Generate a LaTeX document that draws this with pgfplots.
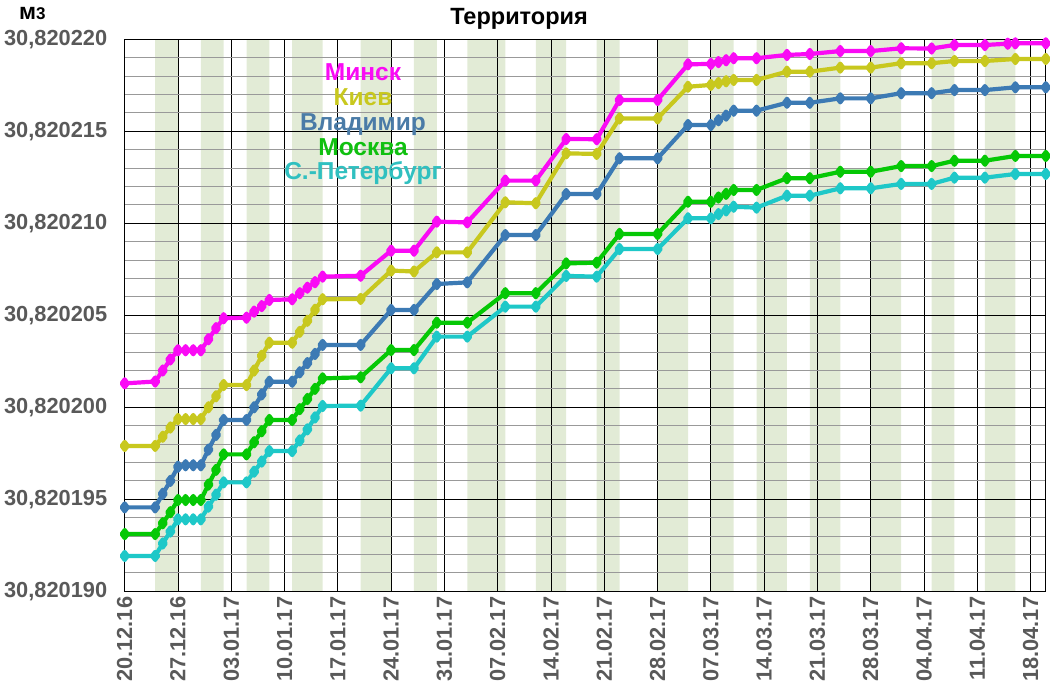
\documentclass[border=0pt]{standalone}
\usepackage{fontspec}
\setmainfont{Liberation Sans}
\usepackage{pgfplots}
\pgfplotsset{compat=1.18}
\definecolor{cMinsk}{RGB}{250,10,245}
\definecolor{cKiev}{RGB}{200,200,30}
\definecolor{cVlad}{RGB}{60,122,180}
\definecolor{cMosk}{RGB}{5,200,5}
\definecolor{cSpb}{RGB}{30,200,200}
\definecolor{tVlad}{RGB}{74,123,167}
\definecolor{tMosk}{RGB}{16,192,16}
\definecolor{tSpb}{RGB}{48,192,192}
\definecolor{bandc}{RGB}{226,235,214}
\definecolor{lblgray}{RGB}{89,89,89}
\begin{document}
\begin{tikzpicture}[x=1pt,y=1pt]
\begin{axis}[
  at={(124.7pt,108.7pt)}, anchor=south west,
  scale only axis, width=921.1pt, height=552pt,
  xmin=0, xmax=121, ymin=0, ymax=30,
  set layers,
  clip=false,
  xtick={0,7,...,119},
  xticklabels={20.12.16,27.12.16,03.01.17,10.01.17,17.01.17,24.01.17,31.01.17,07.02.17,14.02.17,21.02.17,28.02.17,07.03.17,14.03.17,21.03.17,28.03.17,04.04.17,11.04.17,18.04.17},
  ytick={0,5,...,30},
  yticklabels={{30,820190},{30,820195},{30,820200},{30,820205},{30,820210},{30,820215},{30,820220}},
  minor ytick={1,2,3,4,6,7,8,9,11,12,13,14,16,17,18,19,21,22,23,24,26,27,28,29},
  xmajorgrids, ymajorgrids, yminorgrids,
  major grid style={black, line width=0.8pt},
  minor grid style={black!40, line width=0.8pt},
  major tick length=0pt, minor tick length=0pt,
  axis line style={black, line width=0.9pt},
  tick label style={font=\fontsize{21.8}{24}\selectfont\bfseries, text=lblgray},
  x tick label style={rotate=90, anchor=east},
  xticklabel shift=2pt,
  yticklabel shift=14pt,
  every axis plot/.append style={line join=round},
]
\addplot[const plot, fill=bandc, draw=none, on layer=axis background] coordinates {
(0,0)(4,30)(7,0)(10,30)(13,0)(16,30)(19,0)(22,30)(26,0)(31,30)(35,0)(38,30)(41,0)(45,30)(50,0)(54,30)(58,0)(62,30)(65,0)(70,30)(74,0)(77,30)(80,0)(83,30)(87,0)(90,30)(94,0)(98,30)(102,0)(106,30)(109,0)(113,30)(117,0)(121,0)} \closedcycle;

% С.-Петербург
\addplot[color=cSpb, line width=4.2pt, mark=diamond*, mark size=4pt] coordinates {
(0,1.92)(4,1.92)(5,2.6)(6,3.25)(7,3.91)(8,3.91)(9,3.91)(10,3.91)(11,4.6)(12,5.25)(13,5.92)(16,5.92)(17,6.5)(18,7.05)(19,7.62)(22,7.62)(23,8.2)(24,8.8)(25,9.45)(26,10.07)(31,10.09)(35,12.12)(38,12.12)(41,13.84)(45,13.84)(50,15.47)(54,15.47)(58,17.14)(62,17.1)(65,18.6)(70,18.6)(74,20.27)(77,20.27)(78,20.5)(79,20.7)(80,20.9)(83,20.85)(87,21.5)(90,21.5)(94,21.9)(98,21.9)(102,22.14)(106,22.14)(109,22.48)(113,22.48)(117,22.68)(121,22.68)};

% Москва
\addplot[color=cMosk, line width=4.2pt, mark=diamond*, mark size=4pt] coordinates {
(0,3.11)(4,3.11)(5,3.7)(6,4.3)(7,4.96)(8,4.96)(9,4.96)(10,4.96)(11,5.8)(12,6.6)(13,7.44)(16,7.44)(17,8.1)(18,8.7)(19,9.31)(22,9.31)(23,9.9)(24,10.45)(25,11.0)(26,11.57)(31,11.63)(35,13.11)(38,13.11)(41,14.6)(45,14.6)(50,16.2)(54,16.2)(58,17.82)(62,17.86)(65,19.42)(70,19.42)(74,21.17)(77,21.17)(78,21.4)(79,21.6)(80,21.81)(83,21.81)(87,22.45)(90,22.45)(94,22.8)(98,22.8)(102,23.11)(106,23.11)(109,23.4)(113,23.4)(117,23.66)(121,23.66)};

% Владимир
\addplot[color=cVlad, line width=4.2pt, mark=diamond*, mark size=4pt] coordinates {
(0,4.56)(4,4.56)(5,5.3)(6,6.0)(7,6.77)(8,6.85)(9,6.85)(10,6.85)(11,7.7)(12,8.5)(13,9.31)(16,9.31)(17,10.0)(18,10.7)(19,11.39)(22,11.39)(23,11.9)(24,12.4)(25,12.9)(26,13.39)(31,13.39)(35,15.29)(38,15.29)(41,16.70)(45,16.79)(50,19.36)(54,19.36)(58,21.59)(62,21.59)(65,23.53)(70,23.53)(74,25.34)(77,25.34)(78,25.6)(79,25.85)(80,26.12)(83,26.12)(87,26.55)(90,26.55)(94,26.79)(98,26.79)(102,27.07)(106,27.07)(109,27.24)(113,27.24)(117,27.39)(121,27.39)};

% Киев
\addplot[color=cKiev, line width=4.2pt, mark=diamond*, mark size=4pt] coordinates {
(0,7.9)(4,7.9)(5,8.4)(6,8.9)(7,9.36)(8,9.36)(9,9.36)(10,9.36)(11,10.0)(12,10.6)(13,11.21)(16,11.21)(17,12.0)(18,12.8)(19,13.51)(22,13.51)(23,14.1)(24,14.7)(25,15.3)(26,15.87)(31,15.89)(35,17.43)(38,17.38)(41,18.42)(45,18.42)(50,21.14)(54,21.09)(58,23.8)(62,23.77)(65,25.7)(70,25.7)(74,27.42)(77,27.52)(78,27.62)(79,27.72)(80,27.79)(83,27.79)(87,28.24)(90,28.24)(94,28.46)(98,28.46)(102,28.7)(106,28.7)(109,28.82)(113,28.82)(117,28.93)(121,28.93)};

% Минск
\addplot[color=cMinsk, line width=4.2pt, mark=diamond*, mark size=4pt] coordinates {
(0,11.3)(4,11.4)(5,12.0)(6,12.6)(7,13.1)(8,13.1)(9,13.1)(10,13.1)(11,13.7)(12,14.3)(13,14.84)(16,14.87)(17,15.2)(18,15.5)(19,15.83)(22,15.87)(23,16.2)(24,16.5)(25,16.8)(26,17.1)(31,17.15)(35,18.51)(38,18.51)(41,20.09)(45,20.05)(50,22.32)(54,22.32)(58,24.58)(62,24.57)(65,26.7)(70,26.7)(74,28.64)(77,28.66)(78,28.76)(79,28.86)(80,28.97)(83,28.97)(87,29.15)(90,29.2)(94,29.36)(98,29.36)(102,29.51)(106,29.5)(109,29.69)(113,29.69)(116,29.76)(117,29.78)(121,29.78)};
\end{axis}
\node[anchor=base, font=\fontsize{23.5}{26}\selectfont\bfseries] at (519,675) {Территория};
\node[anchor=base west, inner sep=0pt, font=\bfseries] at (19,680.7) {{\fontsize{23}{24}\selectfont м}{\fontsize{17}{20}\selectfont 3}};
\begin{scope}[every node/.style={anchor=base, inner sep=0pt, font=\fontsize{24.5}{27}\selectfont\bfseries}]
\node[text=cMinsk] at (363,619) {Минск};
\node[text=cKiev] at (363,594.25) {Киев};
\node[text=tVlad] at (363,569.5) {Владимир};
\node[text=tMosk] at (363,544.75) {Москва};
\node[text=tSpb] at (363,520) {С.-Петербург};
\end{scope}
\path (0,0) rectangle (1050,700);
\end{tikzpicture}
\end{document}
